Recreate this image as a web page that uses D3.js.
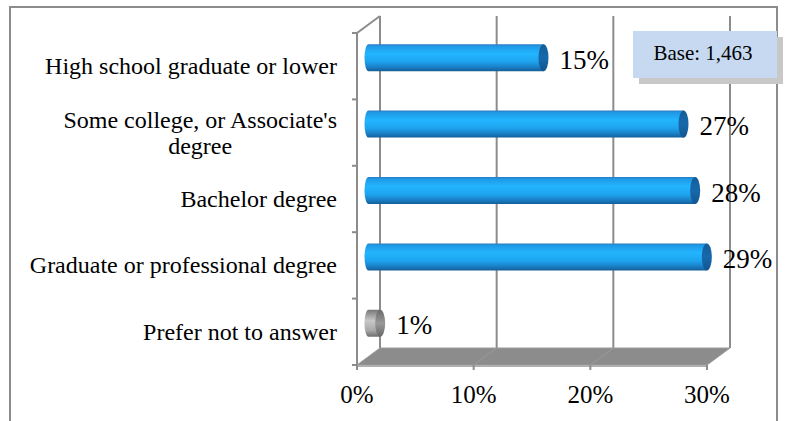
<!DOCTYPE html>
<html>
<head>
<meta charset="utf-8">
<script src="https://cdn.jsdelivr.net/npm/d3@7"></script>
<style>
  body { margin: 0; background: #fff; }
</style>
</head>
<body>
<script>
var width = 786;
var height = 421;

// Chart data.
var categories = [
  ['High school graduate or lower'],
  ['Some college, or Associate\'s', 'degree'],
  ['Bachelor degree'],
  ['Graduate or professional degree'],
  ['Prefer not to answer']
];
var values = [0.15, 0.27, 0.28, 0.29, 0.01];
var barKind = ['blue', 'blue', 'blue', 'blue', 'gray'];
var xTicks = [0, 0.1, 0.2, 0.3];
var baseText = 'Base: 1,463';

// Create SVG canvas.
var svg = d3.select('body')
  .append('svg')
  .attr('width', width)
  .attr('height', height)
  .style('font-family', '"Liberation Serif", "DejaVu Serif", serif');

// Gradients for the cylinders.
var defs = svg.append('defs');
function grad(id, stops) {
  var g = defs.append('linearGradient')
    .attr('id', id)
    .attr('x1', 0).attr('y1', 0).attr('x2', 0).attr('y2', 1);
  stops.forEach(function(s) {
    g.append('stop').attr('offset', s[0]).attr('stop-color', s[1]);
  });
}
grad('blueBody', [[0, '#2a7cc0'], [0.08, '#1f9ae6'], [0.35, '#23b5ff'], [0.65, '#1ea3ee'], [0.85, '#1a7fc6'], [1, '#145f98']]);
grad('blueCap', [[0, '#145d98'], [0.5, '#1769ab'], [1, '#125590']]);
grad('grayBody', [[0, '#777'], [0.4, '#c8c8c8'], [0.75, '#aaa'], [1, '#6e6e6e']]);
grad('grayCap', [[0, '#6a6a6a'], [0.5, '#999'], [1, '#666']]);

// Outer border.
svg.append('rect')
  .attr('x', 10).attr('y', 7)
  .attr('width', 767).attr('height', 440)
  .attr('fill', 'none')
  .attr('stroke', '#8c8c8c')
  .attr('stroke-width', 2);

// Scales.
var x = d3.scaleLinear().domain([0, 0.3]).range([357, 707]);
var y = d3.scaleBand().domain(d3.range(categories.length)).range([33, 365]);
var dx = 23, dy = -17;          // depth of the 3D box
var floorY = y.range()[1];
var gridColor = '#8c8c8c';

// Back gridlines.
svg.append('g').selectAll('line')
  .data(xTicks)
  .enter().append('line')
  .attr('x1', function(d) { return x(d) + dx; })
  .attr('x2', function(d) { return x(d) + dx; })
  .attr('y1', y.range()[0] + dy)
  .attr('y2', floorY + dy)
  .attr('stroke', gridColor)
  .attr('stroke-width', 2);

// Floor.
var floor = svg.append('g');
floor.append('path')
  .attr('d', 'M' + x(0) + ',' + floorY + 'L' + (x(0) + dx) + ',' + (floorY + dy) +
    'L' + (x(0.3) + dx) + ',' + (floorY + dy) + 'L' + x(0.3) + ',' + floorY + 'Z')
  .attr('fill', '#8c8c8c')
  .attr('stroke', '#9a9a9a')
  .attr('stroke-width', 1);
floor.append('rect')
  .attr('x', x(0)).attr('y', floorY)
  .attr('width', x(0.3) - x(0)).attr('height', 2)
  .attr('fill', '#b0b0b0');
floor.selectAll('line')
  .data(xTicks.slice(1, -1))
  .enter().append('line')
  .attr('x1', function(d) { return x(d); })
  .attr('y1', floorY)
  .attr('x2', function(d) { return x(d) + dx; })
  .attr('y2', floorY + dy)
  .attr('stroke', '#9c9c9c')
  .attr('stroke-width', 1);

// Left wall edges.
svg.append('path')
  .attr('d', 'M' + x(0) + ',' + floorY + 'L' + x(0) + ',' + y.range()[0] +
    'L' + (x(0) + dx) + ',' + (y.range()[0] + dy))
  .attr('fill', 'none')
  .attr('stroke', gridColor)
  .attr('stroke-width', 2);

// Left ticks.
svg.append('g').selectAll('line')
  .data(d3.range(categories.length + 1))
  .enter().append('line')
  .attr('x1', x(0) - 5).attr('x2', x(0))
  .attr('y1', function(i) { return y.range()[0] + i * y.bandwidth(); })
  .attr('y2', function(i) { return y.range()[0] + i * y.bandwidth(); })
  .attr('stroke', gridColor)
  .attr('stroke-width', 2);

// Bottom ticks and labels.
var xAxis = svg.append('g');
xAxis.selectAll('line')
  .data(xTicks)
  .enter().append('line')
  .attr('x1', function(d) { return x(d); })
  .attr('x2', function(d) { return x(d); })
  .attr('y1', floorY)
  .attr('y2', floorY + 5)
  .attr('stroke', gridColor)
  .attr('stroke-width', 2);
xAxis.selectAll('text')
  .data(xTicks)
  .enter().append('text')
  .attr('x', function(d) { return x(d); })
  .attr('y', 403)
  .attr('text-anchor', 'middle')
  .attr('font-size', 25)
  .text(function(d) { return d3.format('.0%')(d); });

// Category labels.
var catLabel = svg.append('g').selectAll('text')
  .data(categories)
  .enter().append('text')
  .attr('text-anchor', 'middle')
  .attr('font-size', 24)
  .attr('y', function(d, i) { return y(i) + y.bandwidth() / 2 + 8 - (d.length - 1) * 13; });
catLabel.selectAll('tspan')
  .data(function(d) { return d; })
  .enter().append('tspan')
  .text(function(d) { return d; });
// right-align first line, center the rest under it
catLabel.each(function(d) {
  var t = d3.select(this);
  var spans = t.selectAll('tspan').nodes();
  var w0 = spans[0].getComputedTextLength();
  var cx = 337 - w0 / 2;
  t.selectAll('tspan')
    .attr('x', cx)
    .attr('dy', function(s, j) { return j === 0 ? 0 : 26; });
});

// Cylinder bars.
var r = 13.5, capRx = 5;
var xm = function(v) { return x(v) + dx / 2; };
var bars = svg.append('g').selectAll('g')
  .data(values)
  .enter().append('g')
  .attr('transform', function(d, i) {
    return 'translate(0,' + (y(i) + y.bandwidth() / 2 + dy / 2) + ')';
  });
bars.append('path')
  .attr('d', function(d) {
    var x0 = xm(0), x1 = xm(d);
    return 'M' + x1 + ',' + (-r) + 'L' + x0 + ',' + (-r) +
      'A' + (capRx - 1) + ',' + r + ' 0 0 0 ' + x0 + ',' + r +
      'L' + x1 + ',' + r + 'Z';
  })
  .attr('fill', function(d, i) { return 'url(#' + barKind[i] + 'Body)'; });
bars.append('ellipse')
  .attr('cx', function(d) { return xm(d); })
  .attr('cy', 0)
  .attr('rx', capRx)
  .attr('ry', r)
  .attr('fill', function(d, i) { return 'url(#' + barKind[i] + 'Cap)'; });

// Value labels.
bars.append('text')
  .attr('x', function(d) { return xm(d) + capRx + 11; })
  .attr('y', 11)
  .attr('font-size', 27)
  .text(function(d) { return d3.format('.0%')(d); });

// Base box.
var box = svg.append('g');
box.append('rect')
  .attr('x', 639).attr('y', 37)
  .attr('width', 144).attr('height', 47)
  .attr('fill', '#c8c8c8');
box.append('rect')
  .attr('x', 633).attr('y', 31)
  .attr('width', 144).attr('height', 47)
  .attr('fill', '#c6d9f1');
box.append('text')
  .attr('x', 703).attr('y', 60)
  .attr('text-anchor', 'middle')
  .attr('font-size', 21)
  .text(baseText);
</script>
</body>
</html>
